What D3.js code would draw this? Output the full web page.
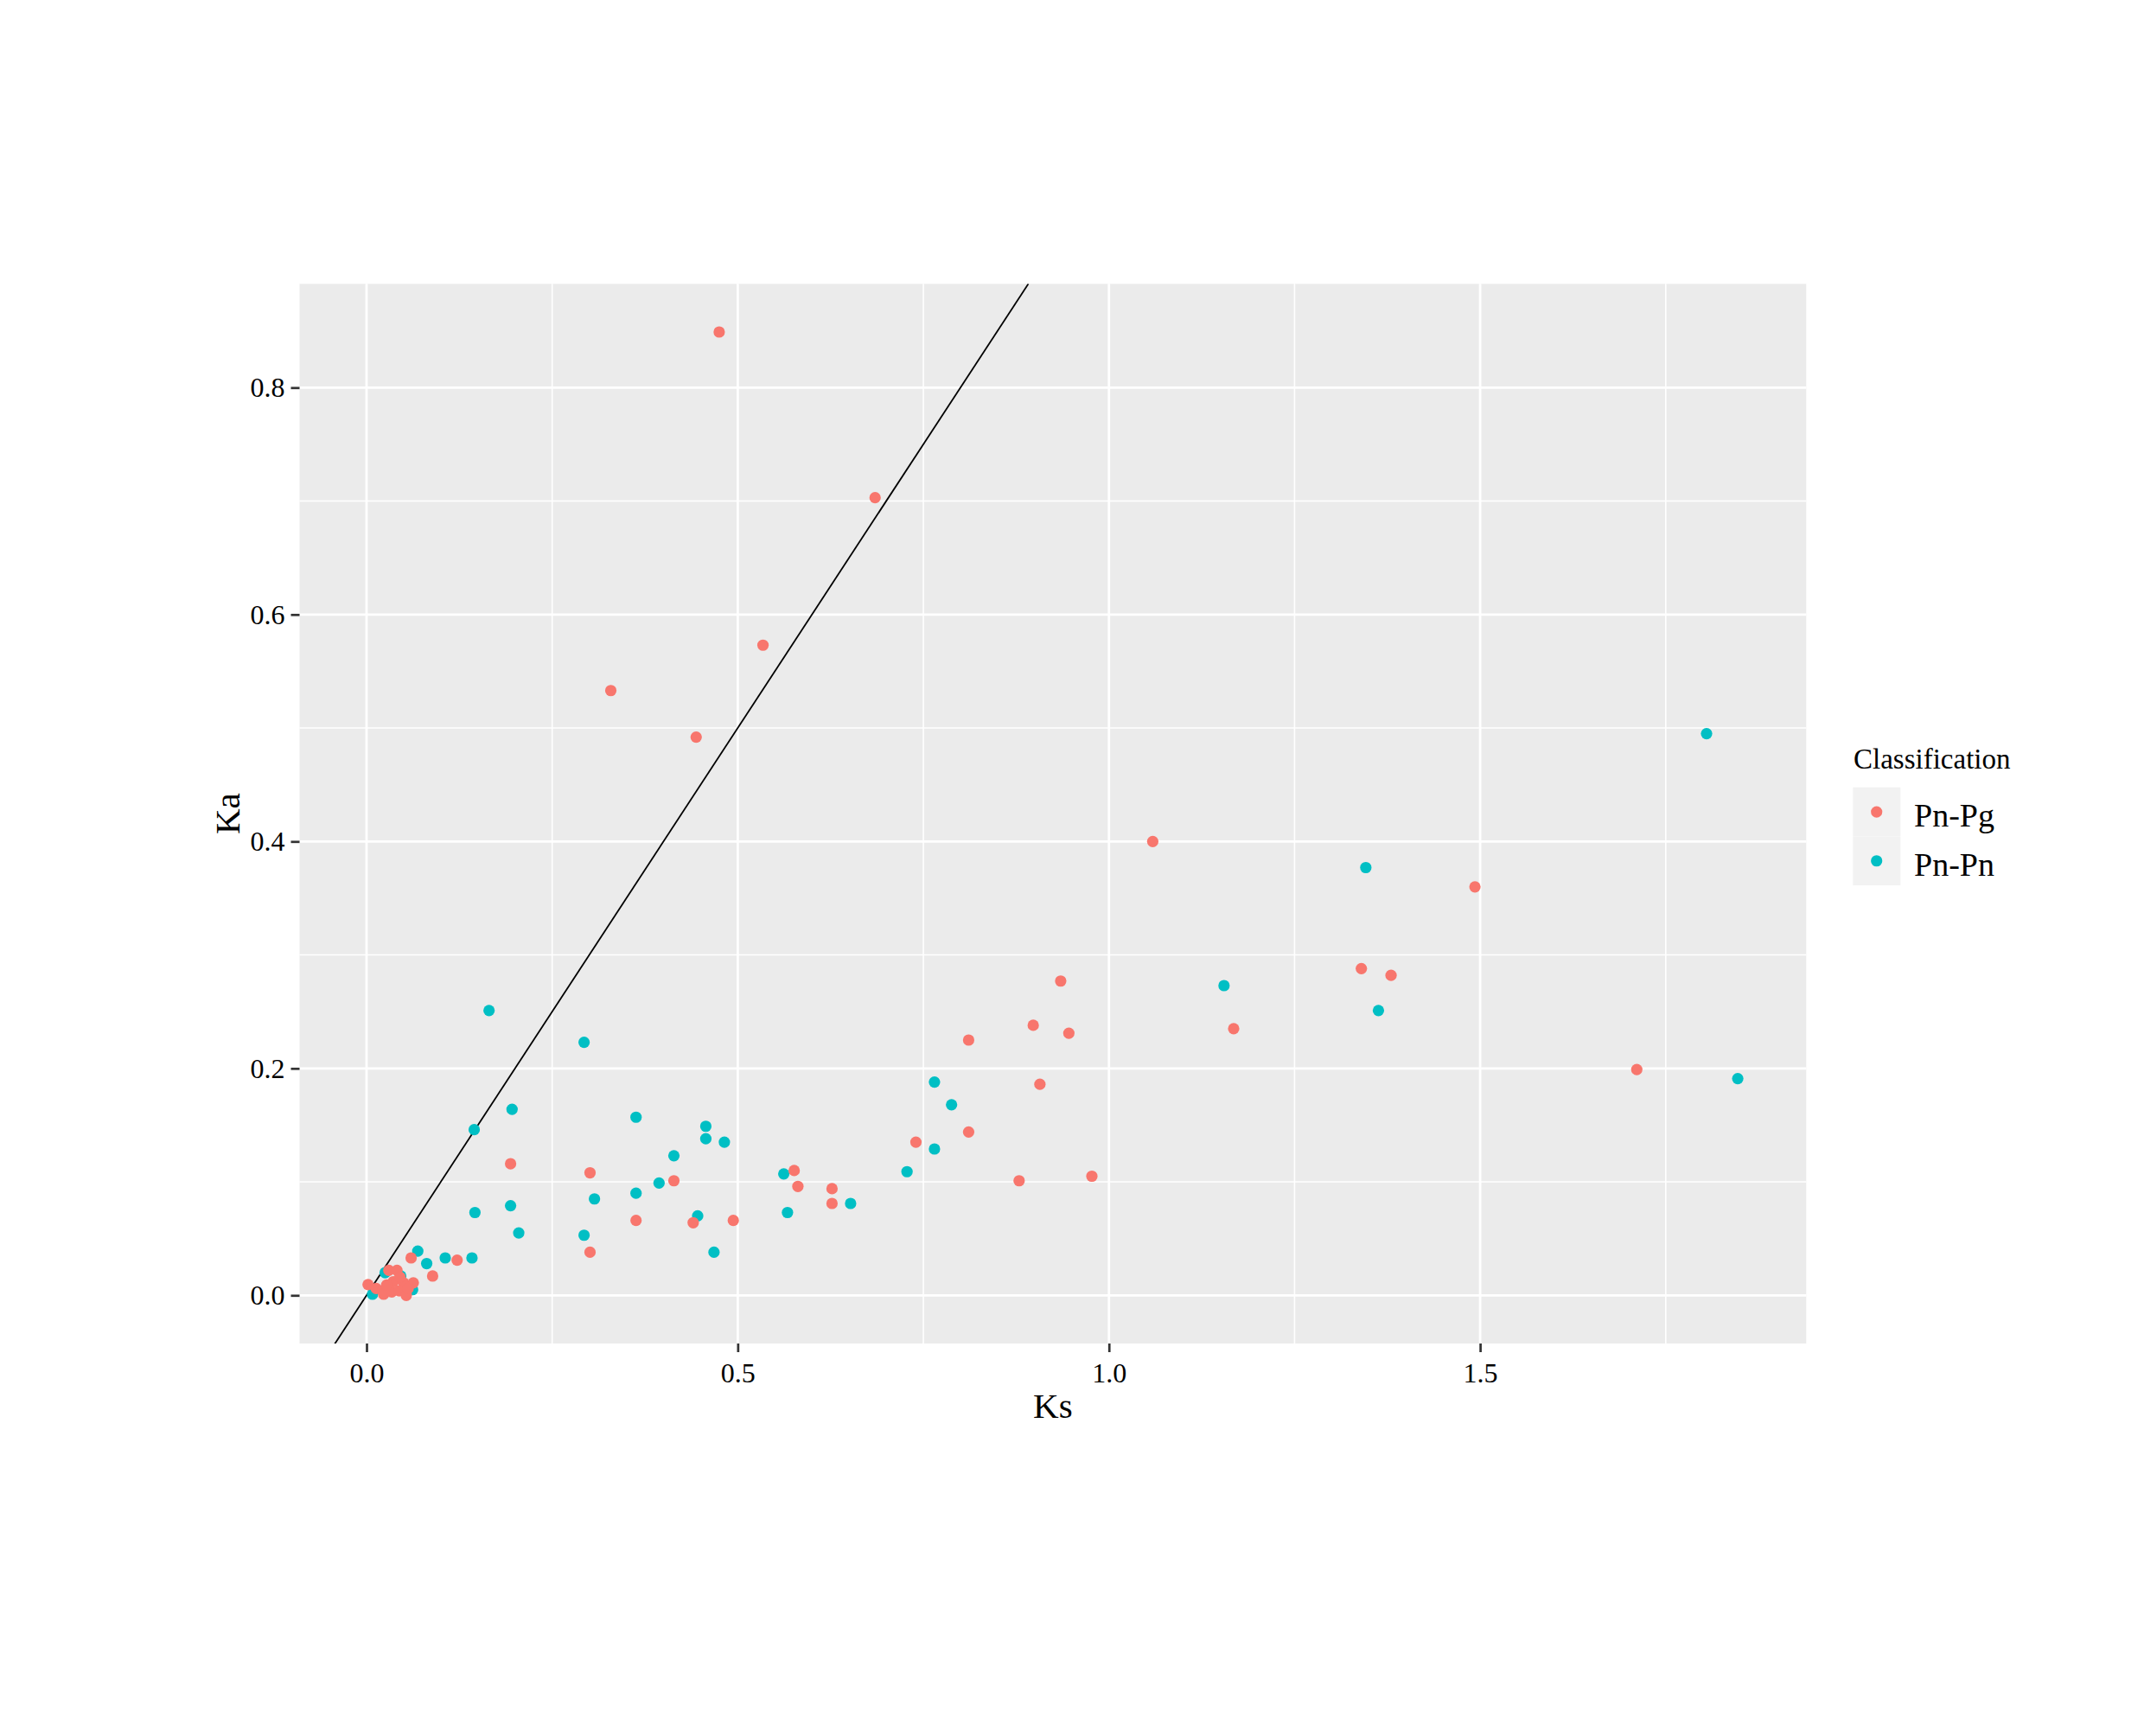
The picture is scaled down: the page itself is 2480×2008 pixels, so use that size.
<!DOCTYPE html>
<html>
<head>
<meta charset="utf-8">
<script src="https://cdn.jsdelivr.net/npm/d3@7"></script>
<style>
  body { margin: 0; background: #ffffff; }
  text { font-family: "Liberation Serif", "Times New Roman", serif; fill: #000000; }
</style>
</head>
<body>
<script>
// categories and colours (ggplot default hue palette)
const categories = ["Pn-Pg", "Pn-Pn"];
const catColors = ["#F8766D", "#00BFC4"];

// [Ks, Ka]
const pnPg = [
  [0.475, 0.849], [0.685, 0.703], [0.534, 0.573], [0.329, 0.533], [0.444, 0.492],
  [1.059, 0.400], [1.493, 0.360], [1.340, 0.288], [1.380, 0.282], [0.935, 0.277],
  [0.898, 0.238], [0.946, 0.231], [1.168, 0.235], [0.811, 0.225], [1.711, 0.199],
  [0.907, 0.186], [0.811, 0.144], [0.740, 0.135], [0.194, 0.116], [0.576, 0.110],
  [0.301, 0.108], [0.879, 0.101], [0.414, 0.101], [0.977, 0.105], [0.581, 0.096],
  [0.627, 0.094], [0.627, 0.081], [0.363, 0.066], [0.494, 0.066], [0.440, 0.064],
  [0.301, 0.038], [0.122, 0.031], [0.060, 0.033], [0.089, 0.017],
  // cluster near the origin
  [0.002, 0.0095], [0.013, 0.006], [0.022, 0.004], [0.030, 0.022], [0.041, 0.022],
  [0.036, 0.012], [0.050, 0.011], [0.063, 0.011], [0.023, 0.001], [0.034, 0.003],
  [0.044, 0.004], [0.0535, 0.000], [0.056, 0.006], [0.027, 0.009], [0.045, 0.016]
];

const pnPn = [
  [1.805, 0.495], [1.346, 0.377], [1.155, 0.273], [1.363, 0.251], [0.165, 0.251],
  [0.293, 0.223], [1.847, 0.191], [0.765, 0.188], [0.788, 0.168], [0.196, 0.164],
  [0.363, 0.157], [0.457, 0.149], [0.145, 0.146], [0.457, 0.138], [0.482, 0.135],
  [0.414, 0.123], [0.765, 0.129], [0.562, 0.107], [0.728, 0.109], [0.394, 0.099],
  [0.363, 0.090], [0.307, 0.085], [0.194, 0.079], [0.652, 0.081], [0.146, 0.073],
  [0.567, 0.073], [0.446, 0.070], [0.205, 0.055], [0.293, 0.053], [0.468, 0.038],
  [0.069, 0.039], [0.106, 0.033], [0.142, 0.033], [0.081, 0.028], [0.008, 0.001],
  [0.025, 0.020], [0.046, 0.017], [0.062, 0.005]
];

const xTicks = [0, 0.5, 1.0, 1.5];
const xMinor = [0.25, 0.75, 1.25, 1.75];
const yTicks = [0, 0.2, 0.4, 0.6, 0.8];
const yMinor = [0.1, 0.3, 0.5, 0.7];

const W = 2480, H = 2008;
const panel = { left: 346.5, right: 2089.3, top: 328.3, bottom: 1554 };

// ggplot style 5% expansion of the data range
function expand(ext) {
  const pad = (ext[1] - ext[0]) * 0.05;
  return [ext[0] - pad, ext[1] + pad];
}
const all = pnPg.concat(pnPn);
const xDomain = expand(d3.extent(all, d => d[0]));
const yDomain = expand(d3.extent(all, d => d[1]));

const x = d3.scaleLinear().domain(xDomain).range([panel.left, panel.right]);
const y = d3.scaleLinear().domain(yDomain).range([panel.bottom, panel.top]);

const svg = d3.select("body").append("svg")
  .attr("width", W)
  .attr("height", H);

svg.append("rect").attr("width", W).attr("height", H).attr("fill", "#ffffff");

svg.append("clipPath").attr("id", "panelClip")
  .append("rect")
  .attr("x", panel.left).attr("y", panel.top)
  .attr("width", panel.right - panel.left)
  .attr("height", panel.bottom - panel.top);

// panel background
svg.append("rect")
  .attr("x", panel.left).attr("y", panel.top)
  .attr("width", panel.right - panel.left)
  .attr("height", panel.bottom - panel.top)
  .attr("fill", "#EBEBEB");

// grid lines
const grid = svg.append("g");
grid.selectAll(".xminor").data(xMinor).enter().append("line")
  .attr("x1", d => x(d)).attr("x2", d => x(d))
  .attr("y1", panel.top).attr("y2", panel.bottom)
  .attr("stroke", "#ffffff").attr("stroke-width", 1.6);
grid.selectAll(".yminor").data(yMinor).enter().append("line")
  .attr("y1", d => y(d)).attr("y2", d => y(d))
  .attr("x1", panel.left).attr("x2", panel.right)
  .attr("stroke", "#ffffff").attr("stroke-width", 1.6);
grid.selectAll(".xmajor").data(xTicks).enter().append("line")
  .attr("x1", d => x(d)).attr("x2", d => x(d))
  .attr("y1", panel.top).attr("y2", panel.bottom)
  .attr("stroke", "#ffffff").attr("stroke-width", 2.8);
grid.selectAll(".ymajor").data(yTicks).enter().append("line")
  .attr("y1", d => y(d)).attr("y2", d => y(d))
  .attr("x1", panel.left).attr("x2", panel.right)
  .attr("stroke", "#ffffff").attr("stroke-width", 2.8);

// Ka = Ks reference line
svg.append("line")
  .attr("clip-path", "url(#panelClip)")
  .attr("x1", x(xDomain[0])).attr("y1", y(xDomain[0]))
  .attr("x2", x(yDomain[1])).attr("y2", y(yDomain[1]))
  .attr("stroke", "#000000").attr("stroke-width", 1.8);

// points, Pn-Pn first so Pn-Pg lies on top
const pts = svg.append("g").attr("clip-path", "url(#panelClip)");
pts.selectAll(".pn").data(pnPn).enter().append("circle")
  .attr("cx", d => x(d[0])).attr("cy", d => y(d[1]))
  .attr("r", 6.6).attr("fill", catColors[1]);
pts.selectAll(".pg").data(pnPg).enter().append("circle")
  .attr("cx", d => x(d[0])).attr("cy", d => y(d[1]))
  .attr("r", 6.6).attr("fill", catColors[0]);

// axes
const xAxis = svg.append("g")
  .attr("transform", `translate(0,${panel.bottom})`)
  .call(d3.axisBottom(x).tickValues(xTicks).tickFormat(d3.format(".1f")).tickSize(10).tickPadding(12));
const yAxis = svg.append("g")
  .attr("transform", `translate(${panel.left},0)`)
  .call(d3.axisLeft(y).tickValues(yTicks).tickFormat(d3.format(".1f")).tickSize(10).tickPadding(7));

[xAxis, yAxis].forEach(ax => {
  ax.select(".domain").remove();
  ax.selectAll(".tick line").attr("stroke", "#333333").attr("stroke-width", 2.7);
  ax.selectAll(".tick text")
    .attr("font-family", "Liberation Serif, Times New Roman, serif")
    .attr("font-size", 32)
    .attr("fill", "#000000");
});

// axis titles
svg.append("text")
  .attr("x", (panel.left + panel.right) / 2)
  .attr("y", 1640)
  .attr("text-anchor", "middle")
  .attr("font-size", 41)
  .text("Ks");

svg.append("text")
  .attr("transform", `translate(276.7,${(panel.top + panel.bottom) / 2}) rotate(-90)`)
  .attr("text-anchor", "middle")
  .attr("font-size", 41)
  .text("Ka");

// legend
const legend = svg.append("g");
legend.append("text")
  .attr("x", 2144).attr("y", 889)
  .attr("font-size", 33)
  .text("Classification");

const keyH = 56.7;
legend.selectAll(".keybg").data(categories).enter().append("rect")
  .attr("x", 2143.3).attr("y", (d, i) => 910.7 + i * keyH)
  .attr("width", 55).attr("height", keyH)
  .attr("fill", "#F2F2F2");
legend.selectAll(".keypt").data(categories).enter().append("circle")
  .attr("cx", 2170.7).attr("cy", (d, i) => 910.7 + keyH / 2 + i * keyH)
  .attr("r", 6.6)
  .attr("fill", (d, i) => catColors[i]);
legend.selectAll(".keytxt").data(categories).enter().append("text")
  .attr("x", 2214).attr("y", (d, i) => 956 + i * keyH)
  .attr("font-size", 38)
  .text(d => d);
</script>
</body>
</html>
